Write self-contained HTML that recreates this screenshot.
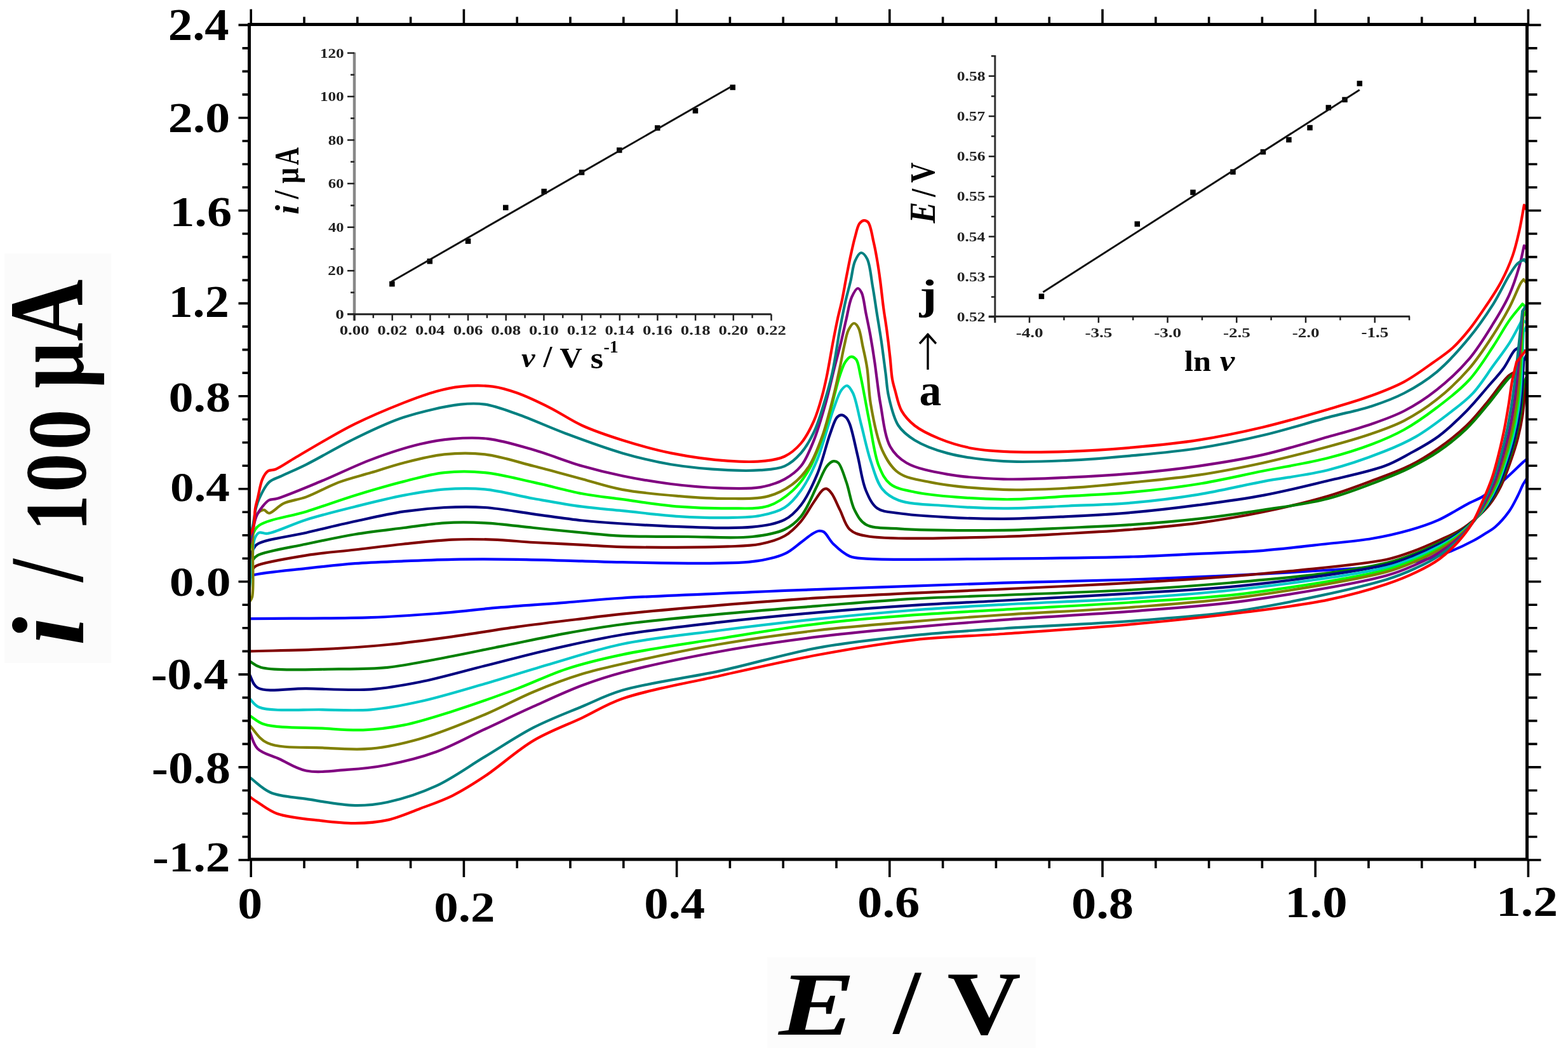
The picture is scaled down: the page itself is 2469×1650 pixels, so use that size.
<!DOCTYPE html><html><head><meta charset="utf-8"><title>Cyclic voltammograms</title>
<style>html,body{margin:0;padding:0;background:#fff;overflow:hidden}svg{display:block}text{font-family:'Liberation Serif', 'Times New Roman', serif;font-weight:bold}</style></head><body>
<svg width="2469" height="1650" viewBox="0 0 2469 1650">
<rect width="2469" height="1650" fill="#ffffff"/>
<rect x="7" y="399" width="168" height="645" fill="#fbfbfb"/>
<rect x="1208" y="1507" width="423" height="143" fill="#fcfcfc"/>
<g fill="none" stroke-width="4.2" stroke-linejoin="round" stroke-linecap="round">
<path stroke="#0000ff" d="M392.5 930 L392.5 912 M392.5 912.0 C394.0 910.3 395.5 908.2 397.0 907.0 C398.2 906.1 398.5 905.8 400.5 905.1 C409.8 902.1 455.5 897.9 482.3 894.9 C508.3 892.0 533.4 889.1 559.0 887.2 C584.5 885.3 610.1 884.5 635.6 883.4 C661.2 882.3 684.9 881.3 712.3 880.8 C743.9 880.3 780.5 880.4 814.6 880.8 C848.7 881.2 886.8 882.6 916.8 883.4 C940.4 884.0 952.9 884.9 980.0 885.2 C1028.7 885.8 1139.3 889.7 1184.5 884.2 C1207.4 881.4 1221.9 878.1 1235.6 871.9 C1246.1 867.2 1253.4 859.7 1261.2 854.0 C1268.0 849.1 1274.7 843.1 1280.0 840.0 C1283.4 838.0 1286.0 836.4 1289.0 836.0 C1291.7 835.7 1294.2 835.8 1297.0 837.4 C1301.8 840.2 1306.1 850.5 1312.3 856.5 C1319.4 863.4 1328.9 871.9 1337.9 875.7 C1346.0 879.1 1350.7 878.6 1363.5 879.6 C1400.4 882.4 1508.9 880.1 1580.0 879.6 C1649.1 879.1 1728.0 878.2 1784.5 876.5 C1824.5 875.3 1852.7 873.5 1886.8 871.9 C1920.9 870.3 1955.0 869.4 1989.0 866.8 C2023.1 864.1 2060.6 859.4 2091.3 856.0 C2116.5 853.2 2138.0 851.8 2160.0 848.0 C2180.8 844.5 2201.6 839.8 2220.0 834.5 C2236.1 829.9 2250.1 825.4 2264.7 818.9 C2279.9 812.1 2296.3 801.2 2309.3 794.3 C2319.3 789.0 2327.3 786.4 2336.1 780.9 C2345.9 774.8 2355.3 766.9 2365.1 758.6 C2376.1 749.3 2391.8 733.5 2398.6 727.4 C2401.5 724.8 2402.9 723.8 2405.0 722.0 M2405 722 L2405 752 M2405.0 752.0 C2402.9 755.3 2400.8 758.1 2398.6 762.0 C2395.7 767.2 2393.1 774.4 2389.7 781.0 C2385.8 788.6 2381.8 797.2 2376.3 805.0 C2370.2 813.6 2360.9 824.0 2354.0 830.0 C2349.1 834.2 2345.1 836.0 2340.0 839.2 C2334.1 842.9 2328.2 846.9 2320.5 851.0 C2310.0 856.6 2295.1 863.7 2282.0 868.8 C2269.0 873.8 2257.2 877.9 2242.3 881.4 C2224.0 885.7 2202.1 888.5 2180.0 891.0 C2155.1 893.9 2127.1 895.2 2100.0 897.0 C2072.0 898.9 2042.3 900.7 2014.6 902.2 C1988.4 903.6 1967.9 904.6 1937.9 906.0 C1895.5 907.9 1839.3 910.5 1784.5 912.4 C1721.2 914.5 1647.0 915.7 1580.0 917.7 C1515.2 919.7 1449.2 922.2 1389.0 924.3 C1335.1 926.2 1273.0 928.4 1235.6 929.9 C1214.0 930.8 1207.2 931.2 1184.5 932.2 C1139.1 934.3 1034.1 938.1 980.0 941.5 C944.3 943.7 921.9 946.2 891.3 948.6 C858.4 951.1 823.1 953.3 789.0 956.2 C754.9 959.1 720.9 963.3 686.8 966.0 C652.7 968.6 623.9 970.7 584.5 972.1 C530.5 974.0 456.5 973.4 392.5 974.1"/>
<path stroke="#800000" d="M392.5 1020 L392.5 905 M392.5 905.0 C394.3 902.0 396.0 898.5 398.0 896.0 C399.6 894.0 399.9 892.7 403.0 891.1 C413.4 885.5 456.0 878.7 482.3 874.4 C508.0 870.2 533.4 868.5 559.0 865.5 C584.5 862.5 610.0 859.2 635.6 856.5 C661.1 853.9 687.9 850.7 712.3 849.6 C734.5 848.6 754.9 848.9 776.2 849.6 C797.5 850.3 817.9 852.7 840.2 854.0 C864.6 855.4 892.5 856.5 916.8 857.8 C938.9 858.9 953.9 860.6 980.0 861.2 C1022.3 862.2 1106.7 862.0 1146.2 860.4 C1168.1 859.5 1181.7 859.6 1197.3 856.5 C1211.2 853.7 1224.7 850.1 1235.6 843.8 C1245.7 837.9 1253.6 829.6 1261.2 820.8 C1269.1 811.7 1275.4 799.1 1281.7 790.1 C1286.8 782.9 1291.8 773.8 1296.0 771.0 C1298.1 769.6 1300.0 769.0 1302.0 769.6 C1304.6 770.3 1307.2 773.7 1309.8 777.3 C1314.0 783.1 1318.1 794.0 1322.6 802.9 C1327.5 812.6 1330.5 826.7 1337.9 833.5 C1344.6 839.6 1350.4 841.2 1363.5 843.8 C1400.1 851.0 1521.2 846.3 1580.0 845.0 C1620.4 844.1 1648.2 841.9 1682.3 840.0 C1716.4 838.1 1750.4 836.3 1784.5 833.5 C1818.6 830.7 1852.8 827.9 1886.8 823.3 C1921.0 818.7 1955.1 813.0 1989.0 806.0 C2023.2 798.9 2060.8 790.0 2091.3 781.0 C2116.7 773.5 2138.0 765.3 2160.0 757.0 C2180.8 749.2 2201.8 742.1 2220.0 733.0 C2236.4 724.9 2250.1 716.2 2264.7 706.0 C2279.9 695.3 2296.0 682.8 2309.3 670.0 C2321.8 658.0 2331.8 645.0 2342.8 632.0 C2354.1 618.7 2366.5 598.9 2376.3 591.0 C2382.0 586.4 2386.8 585.7 2392.0 583.0 M2392 583 L2404 589 L2404 593 L2400 603 M2400.0 603.0 C2400.2 608.7 2400.7 613.5 2400.5 620.0 C2400.3 628.6 2399.5 639.3 2398.0 650.0 C2396.2 662.4 2393.4 676.9 2390.0 690.0 C2386.7 702.9 2382.5 715.4 2378.0 728.0 C2373.5 740.7 2368.8 754.4 2363.0 766.0 C2357.7 776.6 2351.7 786.6 2345.0 795.0 C2338.9 802.7 2332.3 808.7 2325.0 815.0 C2317.3 821.7 2309.2 828.3 2300.0 834.0 C2290.0 840.2 2278.5 845.0 2266.7 850.4 C2253.7 856.4 2239.1 862.9 2225.0 868.0 C2211.1 873.1 2201.4 877.1 2183.0 881.0 C2149.7 888.1 2088.7 893.3 2040.2 898.3 C1990.0 903.4 1938.0 907.5 1886.8 911.1 C1835.7 914.7 1784.5 917.4 1733.4 920.1 C1682.3 922.8 1629.9 925.2 1580.0 927.5 C1532.3 929.7 1487.9 931.4 1440.2 933.7 C1390.2 936.1 1337.9 938.2 1286.8 941.4 C1235.6 944.6 1184.5 948.7 1133.4 952.9 C1082.3 957.1 1020.0 962.6 980.0 966.7 C954.3 969.4 940.4 971.2 916.8 974.1 C886.8 977.7 848.6 982.2 814.6 986.9 C780.5 991.6 746.4 997.6 712.3 1002.3 C678.3 1007.0 644.2 1011.7 610.1 1015.0 C576.1 1018.3 542.9 1020.5 507.8 1022.2 C470.5 1024.0 430.9 1024.3 392.5 1025.3"/>
<path stroke="#008000" d="M392.5 1040 L392.5 895 M392.5 895.0 C394.3 890.7 395.6 885.6 398.0 882.0 C400.1 878.9 401.2 876.8 405.6 874.4 C417.5 867.8 456.7 862.0 482.3 856.5 C507.8 851.0 533.4 845.5 559.0 841.2 C584.5 837.0 611.2 834.1 635.6 831.0 C657.9 828.2 678.2 824.6 699.6 823.3 C720.9 822.0 741.3 822.2 763.5 823.3 C787.9 824.5 814.6 828.4 840.2 831.0 C865.7 833.6 892.5 836.5 916.8 838.7 C938.9 840.7 956.4 842.7 980.0 843.8 C1010.0 845.2 1048.2 844.8 1082.3 845.0 C1116.4 845.2 1156.4 848.1 1184.5 845.0 C1204.6 842.8 1222.1 840.0 1235.6 833.5 C1246.3 828.4 1253.5 822.4 1261.2 813.1 C1271.2 801.1 1279.4 778.9 1286.8 764.5 C1292.6 753.1 1296.7 740.3 1302.1 733.8 C1305.4 729.9 1309.0 726.7 1312.3 726.2 C1314.9 725.8 1317.6 726.5 1320.0 728.7 C1324.9 733.2 1328.8 748.2 1332.8 759.4 C1337.5 772.5 1339.6 791.1 1345.6 802.9 C1350.4 812.3 1354.6 820.8 1363.5 825.9 C1375.3 832.6 1392.6 830.8 1414.6 832.3 C1453.9 835.1 1531.5 835.3 1580.0 834.8 C1618.2 834.4 1648.2 832.5 1682.3 831.0 C1716.4 829.5 1750.4 828.2 1784.5 825.9 C1818.6 823.5 1852.8 820.7 1886.8 816.9 C1920.9 813.1 1955.0 808.2 1989.0 802.9 C2023.1 797.6 2058.8 793.5 2091.3 785.0 C2122.1 776.9 2155.9 763.2 2179.5 754.0 C2195.7 747.7 2206.4 743.3 2220.0 736.5 C2234.7 729.1 2250.2 720.9 2264.7 711.0 C2280.0 700.6 2296.0 687.8 2309.3 675.0 C2321.8 663.0 2331.8 650.1 2342.8 637.0 C2354.1 623.5 2367.2 604.5 2376.3 595.0 C2381.6 589.5 2385.4 587.0 2390.0 583.0 M2390 583 L2404 589 L2404 593 L2399.5 603 M2399.5 603.0 C2398.9 607.7 2398.4 611.4 2397.8 617.0 C2396.9 625.3 2396.5 637.1 2394.9 648.1 C2393.0 660.6 2390.3 674.8 2387.0 687.9 C2383.8 700.8 2379.8 713.3 2375.5 725.9 C2371.2 738.7 2366.7 752.2 2361.1 763.9 C2355.9 774.8 2350.0 785.2 2343.5 794.2 C2337.6 802.5 2331.2 809.3 2324.0 816.3 C2316.6 823.5 2308.5 830.5 2299.4 836.7 C2289.6 843.3 2278.3 848.8 2266.7 854.5 C2254.0 860.8 2239.8 867.2 2225.8 872.5 C2211.9 877.9 2200.1 882.2 2183.0 886.4 C2158.4 892.5 2125.9 897.5 2091.3 902.2 C2046.8 908.2 1989.1 913.1 1937.9 917.5 C1886.8 921.9 1839.3 925.4 1784.5 928.5 C1721.2 932.1 1641.7 934.5 1580.0 937.0 C1529.0 939.1 1487.9 939.9 1440.2 942.6 C1390.2 945.5 1337.9 950.1 1286.8 954.1 C1235.7 958.2 1184.5 962.1 1133.4 966.9 C1082.2 971.7 1024.1 977.2 980.0 983.0 C946.3 987.4 921.9 991.6 891.3 997.1 C858.4 1003.0 823.1 1010.8 789.0 1017.6 C754.9 1024.4 718.5 1032.2 686.8 1038.0 C659.4 1043.0 635.8 1048.2 610.1 1050.8 C584.6 1053.3 562.0 1053.2 533.4 1053.4 C497.3 1053.6 433.1 1056.9 410.7 1050.8 C401.5 1048.3 398.6 1044.0 392.5 1040.6"/>
<path stroke="#000080" d="M392.5 1061 L392.5 885 M392.5 885.0 C394.3 878.7 395.4 871.0 398.0 866.0 C400.1 862.0 400.9 859.4 405.6 856.5 C417.4 849.0 456.7 844.6 482.3 838.7 C507.9 832.7 533.4 826.4 559.0 820.8 C584.5 815.3 611.1 809.1 635.6 805.4 C657.8 802.1 678.2 800.1 699.6 799.0 C720.9 797.9 741.3 797.5 763.5 799.0 C788.0 800.6 814.6 805.9 840.2 809.3 C865.7 812.7 892.5 816.9 916.8 819.5 C938.8 821.8 956.4 823.0 980.0 824.5 C1010.0 826.4 1048.2 828.8 1082.3 829.7 C1116.4 830.6 1156.4 832.8 1184.5 829.7 C1204.6 827.5 1222.2 825.1 1235.6 818.2 C1246.5 812.6 1253.5 805.1 1261.2 795.2 C1271.0 782.6 1279.4 764.3 1286.8 746.6 C1295.0 727.1 1301.1 699.1 1307.2 682.7 C1311.1 672.1 1313.9 661.5 1318.0 657.0 C1320.2 654.6 1322.7 653.3 1325.0 653.3 C1327.3 653.3 1330.0 655.1 1332.0 657.0 C1334.5 659.4 1335.9 662.4 1337.9 667.4 C1342.1 677.8 1346.5 701.2 1350.7 718.5 C1355.0 736.2 1357.3 757.6 1363.5 772.2 C1368.3 783.6 1373.0 794.3 1381.4 800.3 C1389.9 806.3 1401.2 805.9 1414.6 808.0 C1434.8 811.2 1464.8 812.9 1491.3 814.4 C1519.8 816.0 1549.4 817.0 1580.0 816.9 C1612.9 816.8 1648.2 814.8 1682.3 813.1 C1716.4 811.4 1750.5 809.7 1784.5 806.7 C1818.6 803.7 1852.7 799.7 1886.8 795.2 C1920.9 790.7 1955.0 786.3 1989.0 779.9 C2023.2 773.5 2058.5 764.8 2091.3 756.8 C2122.0 749.4 2156.6 742.5 2180.0 733.8 C2196.3 727.7 2206.4 721.4 2220.0 714.0 C2234.6 706.0 2250.3 697.8 2264.7 687.2 C2280.1 675.8 2295.8 660.6 2309.3 647.0 C2321.7 634.5 2332.5 620.9 2342.8 609.0 C2351.7 598.7 2360.3 589.9 2367.4 580.0 C2374.0 570.8 2379.9 556.9 2384.5 552.0 C2386.6 549.8 2388.2 549.3 2390.0 548.0 M2390 548 L2404 554 L2404 558 L2399.3 568 M2399.3 568.0 C2398.3 583.8 2397.6 601.2 2396.5 615.4 C2395.5 627.1 2394.9 636.0 2393.3 647.2 C2391.5 659.7 2388.8 673.8 2385.6 686.8 C2382.4 699.7 2378.5 712.2 2374.3 724.9 C2370.0 737.6 2365.7 751.1 2360.2 762.9 C2355.1 774.0 2349.2 784.6 2342.8 793.9 C2336.9 802.4 2330.6 809.7 2323.5 816.9 C2316.2 824.4 2308.2 831.6 2299.2 838.0 C2289.4 844.9 2278.3 850.7 2266.7 856.6 C2254.1 863.0 2240.1 869.4 2226.3 874.8 C2212.2 880.3 2203.3 884.3 2183.0 889.1 C2138.3 899.8 2033.1 913.8 1963.5 921.4 C1900.9 928.2 1846.2 930.2 1784.5 934.1 C1718.6 938.3 1641.7 942.1 1580.0 945.5 C1529.0 948.3 1487.9 949.9 1440.2 952.9 C1390.2 956.1 1337.9 959.9 1286.8 964.4 C1235.6 968.9 1184.5 973.9 1133.4 979.7 C1082.2 985.5 1027.2 991.5 980.0 999.3 C939.0 1006.1 902.6 1014.3 865.7 1022.7 C830.6 1030.7 797.6 1039.8 763.5 1048.3 C729.4 1056.8 693.0 1067.5 661.2 1073.8 C633.9 1079.2 612.0 1083.4 584.5 1085.3 C553.0 1087.5 513.9 1084.6 482.3 1084.1 C454.9 1083.7 419.8 1090.9 405.6 1082.8 C397.5 1078.1 396.9 1068.3 392.5 1061.1"/>
<path stroke="#00c8c8" d="M392.5 1099 L392.5 930 M392.5 930.0 C394.2 913.3 395.9 894.8 397.5 880.0 C398.7 868.1 398.1 855.2 401.0 848.0 C402.7 843.6 404.9 840.1 408.1 838.7 C411.5 837.2 415.1 840.7 420.9 840.0 C433.8 838.4 460.6 825.0 482.3 818.2 C506.3 810.7 533.4 804.1 559.0 797.7 C584.5 791.3 611.1 784.6 635.6 779.9 C657.8 775.7 678.2 772.0 699.6 770.4 C720.9 768.8 741.3 768.3 763.5 770.4 C788.0 772.7 814.6 780.4 840.2 785.0 C865.7 789.5 892.4 794.5 916.8 797.7 C938.8 800.6 957.1 801.8 980.0 804.1 C1007.2 806.8 1040.8 811.3 1069.5 813.1 C1096.0 814.8 1123.2 815.5 1146.2 815.1 C1165.0 814.7 1181.7 814.9 1197.3 811.8 C1211.2 809.1 1224.8 805.9 1235.6 799.0 C1245.9 792.4 1253.4 783.1 1261.2 772.2 C1270.8 758.9 1279.0 742.2 1286.8 723.6 C1296.4 700.8 1304.9 664.5 1312.3 644.4 C1317.0 631.8 1320.2 620.2 1325.0 614.0 C1327.8 610.4 1331.2 606.9 1334.0 607.3 C1337.2 607.7 1340.2 613.3 1343.0 618.8 C1348.1 629.1 1351.4 650.4 1355.8 667.4 C1360.7 686.1 1365.1 708.3 1371.1 726.2 C1376.4 742.0 1380.6 759.1 1389.0 769.6 C1395.9 778.2 1403.1 783.1 1414.6 787.5 C1432.7 794.4 1464.8 794.4 1491.3 796.5 C1519.8 798.8 1549.4 800.2 1580.0 800.3 C1612.9 800.4 1648.2 798.0 1682.3 796.5 C1716.4 795.0 1750.5 794.4 1784.5 791.4 C1818.6 788.4 1852.8 784.1 1886.8 778.6 C1921.0 773.0 1954.9 764.5 1989.0 758.1 C2023.1 751.7 2058.7 748.2 2091.3 740.0 C2122.1 732.2 2154.5 720.7 2179.5 710.8 C2198.7 703.2 2213.1 696.9 2229.3 687.6 C2246.3 677.8 2263.6 664.6 2279.0 652.8 C2293.2 641.9 2306.9 632.2 2318.8 619.6 C2331.1 606.6 2341.3 589.5 2351.4 575.6 C2360.5 563.1 2370.1 550.7 2376.9 539.9 C2382.2 531.6 2386.1 523.6 2389.7 516.9 C2392.5 511.7 2394.6 507.6 2397.0 503.0 M2397 503 L2404 509 L2404 513 L2398.9 523 M2398.9 523.0 C2397.4 553.0 2396.1 590.5 2394.4 613.1 C2393.3 626.7 2392.5 634.3 2390.8 645.7 C2388.9 658.2 2386.3 672.2 2383.2 685.1 C2380.2 698.0 2376.4 710.6 2372.3 723.2 C2368.2 736.0 2364.0 749.3 2358.7 761.3 C2353.7 772.6 2347.9 783.5 2341.6 793.3 C2335.8 802.3 2329.8 810.2 2322.8 817.9 C2315.5 825.8 2307.7 833.3 2298.7 840.1 C2289.1 847.4 2278.1 853.7 2266.7 859.9 C2254.3 866.5 2240.7 872.8 2226.9 878.4 C2212.8 884.1 2203.5 888.4 2183.0 893.4 C2138.1 904.4 2033.1 918.3 1963.5 926.5 C1900.9 933.9 1846.2 937.7 1784.5 941.8 C1718.6 946.2 1641.7 948.4 1580.0 951.8 C1529.0 954.6 1487.9 956.8 1440.2 960.5 C1390.2 964.4 1337.9 969.3 1286.8 974.6 C1235.6 979.9 1184.5 985.9 1133.4 992.5 C1082.2 999.1 1027.1 1004.2 980.0 1014.0 C938.8 1022.6 902.7 1035.0 865.7 1045.7 C830.6 1055.8 797.6 1066.6 763.5 1076.4 C729.5 1086.2 693.0 1097.5 661.2 1104.5 C634.0 1110.5 610.2 1115.2 584.5 1117.3 C559.0 1119.4 535.0 1117.8 507.8 1117.3 C476.7 1116.7 426.3 1120.9 408.1 1113.5 C399.7 1110.1 397.7 1104.1 392.5 1099.4"/>
<path stroke="#00ff00" d="M392.5 1126 L392.5 870 M392.5 870.0 C394.3 860.7 394.8 849.6 398.0 842.0 C400.5 836.0 401.9 831.6 408.1 827.1 C420.9 817.8 457.4 813.2 482.3 805.4 C507.7 797.5 533.4 787.8 559.0 779.9 C584.5 772.1 611.1 764.3 635.6 758.1 C657.8 752.5 678.1 746.4 699.6 744.1 C720.8 741.8 741.3 741.9 763.5 744.1 C788.0 746.5 814.7 753.9 840.2 759.4 C865.8 764.9 892.4 772.7 916.8 777.3 C938.8 781.4 957.1 783.1 980.0 786.2 C1007.2 789.9 1040.8 795.4 1069.5 797.7 C1096.0 799.8 1121.8 800.6 1146.2 800.3 C1168.5 800.0 1192.1 802.3 1210.1 796.5 C1225.2 791.6 1237.6 782.0 1248.4 772.2 C1258.8 762.7 1266.3 752.5 1274.0 739.0 C1283.9 721.7 1291.9 698.0 1299.6 675.0 C1308.2 649.3 1316.0 610.3 1322.3 591.7 C1325.6 582.0 1327.4 575.3 1331.0 570.0 C1333.6 566.2 1336.9 562.0 1340.0 561.6 C1342.6 561.2 1345.9 563.1 1348.1 565.9 C1351.9 570.6 1352.5 580.9 1355.0 591.7 C1359.1 609.4 1363.8 638.7 1368.6 662.3 C1373.4 686.1 1376.6 715.9 1383.9 733.8 C1388.9 745.9 1393.1 755.2 1401.8 762.0 C1411.3 769.4 1423.1 771.2 1440.2 774.7 C1472.0 781.2 1537.0 785.5 1580.0 786.2 C1616.7 786.8 1648.2 783.0 1682.3 781.1 C1716.4 779.2 1750.5 777.9 1784.5 774.7 C1818.6 771.5 1852.8 767.5 1886.8 762.0 C1921.0 756.5 1954.9 748.3 1989.0 741.5 C2023.1 734.7 2060.8 728.8 2091.3 721.0 C2116.7 714.5 2139.0 707.5 2160.0 699.5 C2178.5 692.5 2194.4 685.8 2211.0 676.5 C2228.4 666.8 2245.4 654.7 2262.1 642.0 C2279.5 628.8 2298.2 614.8 2313.1 598.5 C2327.9 582.4 2340.2 561.8 2351.4 545.0 C2361.0 530.6 2368.5 515.9 2376.9 504.1 C2383.8 494.4 2390.5 487.1 2397.3 478.6 M2397.3 478.6 L2404 484.6 L2404 488.6 L2398.5 498.6 M2398.5 498.6 C2396.5 536.0 2394.7 584.5 2392.4 610.9 C2391.2 625.3 2390.4 632.8 2388.6 644.3 C2386.7 656.9 2384.2 670.7 2381.1 683.6 C2378.1 696.5 2374.5 709.1 2370.6 721.7 C2366.6 734.5 2362.6 747.8 2357.4 759.8 C2352.5 771.4 2346.7 782.6 2340.5 792.7 C2334.8 802.1 2329.0 810.6 2322.1 818.8 C2315.0 827.1 2307.2 834.8 2298.3 842.0 C2288.9 849.6 2278.0 856.4 2266.7 862.8 C2254.6 869.7 2241.2 876.0 2227.5 881.6 C2213.3 887.5 2203.8 891.9 2183.0 897.3 C2137.9 908.9 2033.1 925.5 1963.5 934.1 C1901.0 941.8 1846.2 944.0 1784.5 948.2 C1718.6 952.7 1641.7 956.2 1580.0 959.8 C1529.0 962.8 1487.9 964.6 1440.2 968.2 C1390.2 972.0 1337.8 976.1 1286.8 982.3 C1235.6 988.5 1184.5 997.3 1133.4 1005.3 C1082.2 1013.4 1024.0 1021.3 980.0 1030.6 C946.2 1037.7 919.5 1044.2 891.3 1053.4 C864.5 1062.2 842.1 1073.8 814.6 1084.1 C783.1 1095.9 744.1 1109.9 712.3 1119.9 C685.0 1128.5 660.2 1136.7 635.6 1141.6 C613.5 1146.0 593.0 1148.5 571.7 1149.3 C550.4 1150.1 531.0 1148.0 507.8 1146.7 C479.9 1145.2 435.9 1146.7 415.8 1140.3 C404.9 1136.8 400.3 1130.9 392.5 1126.2"/>
<path stroke="#808000" d="M392.5 1141 L392.5 948 M392.5 948.0 C394.0 945.3 395.8 944.3 397.0 940.0 C400.6 926.4 396.8 871.9 398.0 850.0 C398.7 837.3 398.7 828.0 401.0 820.0 C402.7 814.3 405.0 808.8 408.0 806.0 C410.2 804.0 413.3 802.6 415.8 802.9 C418.4 803.2 420.3 808.0 423.5 808.0 C429.1 808.0 437.6 796.7 446.5 792.6 C456.8 787.8 469.5 787.1 482.3 782.4 C498.0 776.7 516.2 765.8 533.4 759.4 C550.2 753.1 567.5 749.2 584.5 744.1 C601.5 739.0 617.5 733.3 635.6 728.7 C655.6 723.6 678.2 717.6 699.6 715.4 C720.8 713.2 741.4 712.8 763.5 715.4 C788.1 718.3 814.7 727.3 840.2 733.8 C865.8 740.3 892.5 747.9 916.8 754.3 C938.9 760.2 956.9 766.6 980.0 770.9 C1007.1 776.0 1040.8 778.7 1069.5 781.1 C1096.0 783.3 1121.8 785.1 1146.2 785.0 C1168.5 784.9 1191.9 786.0 1210.1 781.1 C1225.0 777.1 1237.5 770.2 1248.4 762.0 C1258.6 754.2 1266.7 745.0 1274.0 733.8 C1282.4 720.9 1288.3 704.6 1294.4 687.8 C1301.4 668.5 1307.4 643.3 1312.3 623.9 C1316.4 607.8 1319.3 593.5 1322.3 579.6 C1324.9 567.4 1326.7 555.8 1329.2 545.2 C1331.4 535.9 1332.8 525.8 1336.1 519.4 C1338.5 514.8 1341.9 509.1 1344.7 509.0 C1347.1 508.9 1349.7 512.4 1351.6 515.9 C1355.0 522.0 1356.3 535.0 1358.5 545.2 C1360.9 556.2 1363.5 566.6 1365.4 579.6 C1367.9 596.2 1367.6 616.7 1371.1 636.7 C1375.0 659.4 1380.2 689.2 1389.0 708.3 C1395.8 723.1 1402.8 735.6 1414.6 744.1 C1427.6 753.4 1445.0 755.3 1465.7 759.4 C1496.0 765.4 1542.9 769.5 1580.0 770.9 C1615.0 772.2 1648.2 770.3 1682.3 768.4 C1716.4 766.5 1750.4 762.8 1784.5 759.4 C1818.6 756.0 1852.8 753.0 1886.8 747.9 C1921.0 742.8 1955.0 736.1 1989.0 728.7 C2023.2 721.2 2060.7 711.6 2091.3 703.2 C2116.6 696.3 2139.0 690.0 2160.0 682.7 C2178.4 676.3 2194.4 670.9 2211.0 662.3 C2228.5 653.3 2245.7 642.2 2262.1 629.2 C2279.8 615.3 2298.0 598.0 2313.1 580.7 C2327.7 563.9 2340.3 544.3 2351.4 527.1 C2361.1 512.1 2369.4 497.9 2376.9 483.7 C2383.7 470.7 2390.6 452.3 2394.8 445.4 C2396.5 442.6 2397.6 441.8 2399.0 440.0 M2399 440 L2404 446 L2404 480 L2398.2 490 M2398.2 490.0 C2395.8 529.7 2393.4 581.5 2390.9 609.1 C2389.6 624.0 2388.6 631.5 2386.8 643.2 C2384.9 655.9 2382.4 669.5 2379.4 682.4 C2376.5 695.2 2373.0 707.9 2369.2 720.5 C2365.3 733.3 2361.4 746.5 2356.3 758.6 C2351.5 770.4 2345.7 781.9 2339.7 792.3 C2334.1 802.0 2328.4 811.0 2321.5 819.5 C2314.5 828.1 2306.8 836.1 2298.0 843.5 C2288.6 851.4 2278.0 858.6 2266.7 865.2 C2254.7 872.2 2241.6 878.5 2228.0 884.2 C2213.7 890.3 2204.0 894.8 2183.0 900.4 C2137.7 912.5 2033.1 929.8 1963.5 939.2 C1901.0 947.6 1846.2 951.2 1784.5 955.9 C1718.6 960.9 1641.7 963.9 1580.0 968.0 C1529.0 971.4 1487.9 974.4 1440.2 978.4 C1390.2 982.6 1337.9 986.5 1286.8 992.5 C1235.6 998.5 1184.4 1005.4 1133.4 1014.2 C1082.1 1023.0 1019.9 1036.3 980.0 1045.3 C954.3 1051.1 938.7 1054.4 916.8 1061.1 C892.3 1068.6 865.5 1078.7 840.2 1089.2 C814.4 1099.9 791.2 1113.4 763.5 1125.0 C732.1 1138.2 693.2 1154.2 661.2 1163.3 C634.1 1171.0 610.2 1176.4 584.5 1178.7 C559.1 1181.0 534.1 1178.8 507.8 1177.4 C479.7 1175.9 440.9 1179.0 420.9 1169.7 C407.3 1163.4 402.0 1151.0 392.5 1141.6"/>
<path stroke="#800080" d="M392.5 1150 L392.5 860 M392.5 860.0 C394.3 851.7 396.0 843.1 398.0 835.0 C399.9 827.2 401.1 818.6 404.0 812.0 C406.4 806.4 409.8 801.9 413.2 797.7 C416.3 793.8 419.5 789.6 423.5 787.5 C427.3 785.5 430.4 786.7 436.2 785.0 C450.5 780.8 483.6 766.8 507.8 756.8 C533.0 746.4 558.7 733.2 584.5 723.6 C609.8 714.1 638.0 704.8 661.2 699.3 C679.8 694.9 694.8 692.3 712.3 690.9 C730.6 689.4 748.9 688.5 768.6 690.9 C791.2 693.6 816.1 701.4 840.2 708.3 C865.5 715.6 892.4 726.8 916.8 733.8 C938.7 740.1 957.8 744.7 980.0 749.2 C1004.2 754.2 1031.1 758.8 1056.7 762.0 C1082.2 765.2 1109.0 767.6 1133.4 768.4 C1155.7 769.1 1178.9 770.3 1197.3 767.1 C1211.9 764.6 1224.6 760.3 1235.6 754.3 C1245.5 748.9 1253.9 742.8 1261.2 733.8 C1269.8 723.2 1275.6 707.9 1281.7 692.9 C1288.6 675.9 1294.1 655.9 1299.6 636.7 C1305.2 616.8 1310.4 592.9 1314.9 575.3 C1318.3 561.9 1321.1 552.0 1324.0 540.0 C1327.0 527.6 1329.7 514.5 1332.6 502.2 C1335.4 490.4 1337.3 476.3 1341.2 467.7 C1343.9 461.8 1347.8 454.2 1350.7 454.0 C1352.8 453.9 1355.0 457.4 1356.7 460.8 C1360.0 467.4 1361.3 482.5 1363.6 493.6 C1365.9 504.9 1368.3 515.9 1370.5 528.0 C1372.9 541.5 1375.6 558.5 1377.4 571.0 C1378.8 580.7 1379.5 587.3 1380.8 596.9 C1382.4 608.8 1383.7 621.8 1386.5 636.7 C1390.1 656.1 1392.9 687.1 1401.8 703.2 C1408.3 714.9 1415.8 721.9 1427.4 728.7 C1443.1 737.9 1468.0 742.4 1491.3 746.6 C1518.2 751.5 1549.4 753.4 1580.0 754.3 C1612.9 755.3 1648.2 753.2 1682.3 751.7 C1716.4 750.2 1750.5 748.3 1784.5 745.3 C1818.6 742.3 1852.8 738.7 1886.8 733.8 C1921.0 728.9 1955.1 723.5 1989.0 715.9 C2023.3 708.2 2060.6 696.6 2091.3 687.8 C2116.5 680.6 2139.0 674.7 2160.0 667.4 C2178.4 661.0 2194.4 655.6 2211.0 647.0 C2228.5 638.0 2245.7 626.9 2262.1 613.9 C2279.8 600.0 2298.1 583.0 2313.1 565.4 C2327.8 548.1 2340.3 527.2 2351.4 509.2 C2361.2 493.4 2370.0 478.7 2376.9 463.3 C2383.4 448.9 2388.2 433.5 2392.2 419.9 C2395.6 408.2 2397.3 397.8 2399.9 386.8 M2399.9 386.8 L2404 392.8 L2404 480 L2397.7 490 M2397.7 490.0 C2394.5 528.6 2390.9 578.4 2388.0 605.9 C2386.4 621.1 2385.3 629.2 2383.4 641.2 C2381.5 653.9 2379.1 667.3 2376.3 680.1 C2373.5 692.9 2370.1 705.6 2366.5 718.2 C2362.8 731.0 2359.1 744.1 2354.4 756.4 C2349.7 768.5 2344.0 780.5 2338.1 791.5 C2332.6 801.9 2327.2 811.7 2320.4 820.9 C2313.7 830.0 2306.0 838.4 2297.4 846.4 C2288.2 854.7 2277.8 862.7 2266.7 869.6 C2255.0 877.0 2242.3 883.1 2228.9 889.1 C2214.5 895.4 2204.4 900.4 2183.0 906.2 C2137.4 918.7 2033.1 936.1 1963.5 945.6 C1901.0 954.1 1846.2 957.4 1784.5 962.3 C1718.6 967.5 1641.7 971.2 1580.0 975.8 C1529.0 979.6 1487.9 983.0 1440.2 987.4 C1390.2 992.0 1337.9 996.3 1286.8 1002.7 C1235.6 1009.1 1184.4 1016.4 1133.4 1025.7 C1082.1 1035.1 1019.8 1048.1 980.0 1058.7 C954.1 1065.6 938.7 1070.8 916.8 1079.0 C892.3 1088.2 865.7 1100.7 840.2 1112.2 C814.6 1123.7 789.1 1136.1 763.5 1148.0 C737.9 1159.9 712.8 1174.4 686.8 1183.8 C661.6 1192.9 634.7 1199.5 610.1 1204.2 C588.0 1208.5 567.5 1210.4 546.2 1211.9 C524.9 1213.4 501.1 1217.2 482.3 1213.5 C466.4 1210.4 453.3 1201.1 440.0 1195.0 C427.9 1189.5 413.6 1186.7 405.6 1178.7 C398.4 1171.4 396.9 1159.9 392.5 1150.5"/>
<path stroke="#008080" d="M392.5 1223 L392.5 850 M392.5 850.0 C394.3 842.7 396.3 835.8 398.0 828.0 C399.9 819.3 401.0 807.8 403.0 800.0 C404.5 794.2 405.5 790.5 408.1 785.0 C411.6 777.4 417.0 765.5 423.5 759.4 C429.2 754.1 436.0 753.0 443.9 749.2 C454.7 744.0 467.4 738.7 482.3 731.3 C503.6 720.7 533.2 702.9 559.0 690.4 C584.3 678.2 608.6 665.9 635.6 657.1 C663.9 647.8 701.4 639.4 725.1 636.7 C740.5 635.0 749.9 634.7 763.5 636.7 C779.5 639.0 796.0 645.5 814.6 652.0 C837.7 660.1 864.7 672.8 891.3 682.7 C919.7 693.3 951.3 705.1 980.0 713.4 C1006.3 721.0 1030.0 726.9 1056.7 731.3 C1085.2 736.0 1120.5 738.9 1146.2 740.2 C1165.6 741.2 1181.5 741.5 1197.3 740.2 C1211.0 739.1 1224.6 738.7 1235.6 733.8 C1245.7 729.3 1253.8 721.8 1261.2 713.4 C1269.3 704.2 1275.9 692.4 1281.7 680.2 C1288.0 667.0 1292.3 651.7 1297.0 636.7 C1301.9 621.1 1306.3 606.0 1310.3 588.3 C1315.0 567.5 1318.5 539.7 1322.3 519.4 C1325.3 503.3 1327.9 489.8 1330.9 476.3 C1333.6 464.2 1336.9 453.1 1339.5 441.9 C1342.0 431.3 1342.8 418.7 1346.4 410.9 C1348.9 405.3 1352.6 398.3 1355.9 398.0 C1358.9 397.8 1362.8 402.6 1365.4 407.5 C1370.1 416.3 1371.4 436.1 1374.0 450.5 C1376.6 464.8 1378.5 479.2 1380.8 493.6 C1383.1 507.9 1385.5 521.6 1387.7 536.6 C1390.1 553.0 1392.5 572.7 1394.6 588.3 C1396.3 601.3 1396.4 611.4 1399.3 623.9 C1402.6 638.4 1406.8 658.0 1414.6 670.0 C1421.2 680.1 1429.5 686.3 1440.2 693.0 C1453.7 701.4 1471.6 708.1 1491.3 713.4 C1516.5 720.1 1549.3 724.2 1580.0 726.2 C1612.8 728.3 1648.2 726.4 1682.3 724.9 C1716.4 723.4 1750.5 720.4 1784.5 717.2 C1818.6 714.0 1852.8 711.0 1886.8 705.7 C1921.0 700.4 1955.1 693.4 1989.0 685.3 C2023.2 677.2 2060.6 665.3 2091.3 657.1 C2116.4 650.4 2139.0 646.3 2160.0 639.4 C2178.5 633.4 2194.4 627.6 2211.0 619.0 C2228.5 609.9 2245.8 599.3 2262.1 585.8 C2280.0 570.9 2297.9 550.6 2313.1 532.2 C2327.5 514.8 2340.3 496.1 2351.4 478.6 C2361.3 463.0 2369.6 444.3 2376.9 432.7 C2381.7 425.2 2385.2 419.0 2389.7 414.8 C2393.0 411.7 2396.5 410.5 2399.9 408.4 M2399.9 408.4 L2404 414.4 L2404 480 L2397.2 490 M2397.2 490.0 C2393.1 527.5 2388.3 575.2 2384.9 602.4 C2383.0 618.0 2381.8 626.7 2379.9 639.1 C2377.8 651.8 2375.6 664.9 2372.9 677.7 C2370.2 690.5 2367.1 703.2 2363.7 715.9 C2360.2 728.6 2356.8 741.6 2352.2 754.1 C2347.7 766.5 2342.1 779.0 2336.4 790.6 C2331.1 801.7 2326.0 812.5 2319.3 822.3 C2312.7 832.0 2305.3 840.9 2296.8 849.4 C2287.8 858.3 2277.6 867.0 2266.7 874.4 C2255.4 882.0 2243.1 888.1 2229.9 894.2 C2215.4 900.9 2204.7 905.9 2183.0 912.4 C2137.1 926.2 2033.2 948.7 1963.5 959.7 C1901.1 969.5 1846.2 972.7 1784.5 977.6 C1718.7 982.8 1641.7 985.3 1580.0 989.5 C1529.0 992.9 1487.8 995.3 1440.2 1000.2 C1390.2 1005.4 1337.7 1010.8 1286.8 1020.1 C1235.4 1029.5 1184.6 1045.3 1133.4 1056.4 C1082.4 1067.5 1019.6 1075.0 980.0 1086.8 C953.9 1094.6 938.8 1103.0 916.8 1112.2 C892.4 1122.4 865.3 1132.5 840.2 1145.4 C814.2 1158.8 789.1 1176.1 763.5 1191.4 C737.9 1206.7 713.0 1225.3 686.8 1237.4 C661.8 1248.9 633.3 1258.0 610.1 1263.0 C591.6 1267.0 577.7 1268.4 559.0 1268.1 C536.0 1267.7 505.9 1261.6 482.3 1257.9 C462.0 1254.7 441.7 1254.4 426.0 1247.7 C412.6 1242.0 403.7 1231.5 392.5 1223.4"/>
<path stroke="#ff0000" d="M392.5 1254 L392.5 845 M392.5 845.0 C394.7 840.0 397.4 836.0 399.0 830.0 C401.1 821.8 400.6 808.2 402.0 800.0 C403.0 794.1 404.2 790.9 405.6 785.0 C407.7 776.6 409.7 762.1 413.2 754.3 C415.7 748.8 418.4 744.0 422.2 741.5 C425.5 739.3 429.1 740.8 433.7 739.0 C441.7 735.9 453.3 727.5 464.4 721.0 C477.6 713.2 492.7 704.1 507.8 695.5 C524.1 686.2 540.0 676.7 559.0 667.4 C581.7 656.2 612.5 643.2 635.6 634.1 C654.2 626.8 670.8 620.6 686.8 616.2 C700.4 612.5 711.3 610.0 725.1 608.6 C740.8 607.1 760.5 606.6 776.2 608.6 C790.0 610.4 801.1 614.0 814.6 618.8 C830.6 624.5 848.8 633.4 865.7 641.8 C882.9 650.4 898.5 661.7 916.8 670.0 C936.4 678.9 957.8 686.0 980.0 693.0 C1004.2 700.6 1030.0 708.0 1056.7 713.4 C1085.2 719.1 1119.4 723.9 1146.2 725.7 C1167.8 727.2 1188.7 727.6 1205.0 725.7 C1216.9 724.3 1226.3 723.0 1235.6 718.5 C1245.1 713.9 1253.8 706.6 1261.2 698.0 C1269.5 688.3 1276.2 674.7 1281.7 662.3 C1287.2 650.0 1291.0 636.0 1294.4 623.9 C1297.4 613.2 1299.1 605.2 1301.6 593.4 C1304.9 577.4 1308.8 553.2 1312.0 536.6 C1314.5 523.7 1316.5 513.2 1318.9 502.2 C1321.1 492.0 1323.6 483.2 1325.8 472.9 C1328.2 461.5 1330.3 448.6 1332.6 436.7 C1334.9 425.1 1337.1 413.3 1339.5 402.3 C1341.7 392.1 1343.9 381.9 1346.4 373.0 C1348.5 365.4 1350.1 356.3 1353.3 352.0 C1355.3 349.4 1357.8 347.5 1360.2 347.2 C1362.4 347.0 1365.0 347.8 1367.0 350.0 C1371.2 354.7 1373.3 371.5 1375.7 381.6 C1377.8 390.6 1379.2 398.2 1380.8 407.5 C1382.7 418.1 1384.4 429.8 1386.0 441.9 C1387.8 455.4 1389.4 471.5 1391.2 485.0 C1392.8 497.1 1394.7 507.3 1396.3 519.4 C1398.1 532.9 1400.0 548.8 1401.5 562.4 C1402.8 574.5 1403.3 587.3 1405.0 596.9 C1406.2 603.9 1407.6 608.2 1409.5 615.0 C1412.1 624.2 1414.4 637.6 1419.7 646.9 C1424.8 655.8 1431.6 663.2 1440.2 670.0 C1450.4 678.1 1464.5 684.6 1478.5 690.4 C1494.0 696.8 1512.5 702.3 1529.6 705.7 C1546.3 709.0 1560.2 709.8 1580.0 710.8 C1608.1 712.2 1648.2 711.9 1682.3 710.8 C1716.4 709.7 1750.5 707.4 1784.5 704.4 C1818.6 701.4 1852.8 698.2 1886.8 692.9 C1921.0 687.6 1955.1 680.5 1989.0 672.5 C2023.2 664.4 2060.7 653.4 2091.3 644.4 C2116.5 637.0 2139.0 630.6 2160.0 622.8 C2178.4 616.0 2194.8 609.8 2211.0 601.1 C2227.2 592.4 2243.3 580.2 2257.0 570.5 C2268.4 562.5 2278.2 556.0 2287.6 547.5 C2296.9 539.0 2304.9 529.6 2313.1 519.4 C2321.9 508.4 2330.3 496.1 2338.6 483.7 C2347.3 470.7 2356.8 456.8 2364.1 442.9 C2371.2 429.6 2377.2 415.7 2382.0 402.1 C2386.5 389.3 2389.2 376.8 2392.2 363.8 C2395.2 350.5 2397.3 336.6 2399.9 323.0 M2399.9 323 L2404 331 L2404 550 L2388 570 M2388.0 570.0 C2385.8 579.4 2383.3 588.1 2381.3 598.3 C2379.0 610.0 2377.7 623.8 2375.6 636.5 C2373.5 649.3 2371.4 662.1 2368.9 674.8 C2366.3 687.6 2363.5 700.3 2360.3 713.0 C2357.1 725.8 2354.0 738.6 2349.7 751.3 C2345.4 764.2 2339.8 777.3 2334.4 789.6 C2329.2 801.5 2324.5 813.3 2318.0 824.0 C2311.7 834.4 2304.3 843.9 2296.0 853.0 C2287.3 862.6 2277.4 872.1 2266.7 880.0 C2255.8 888.0 2244.0 894.1 2231.0 900.4 C2216.4 907.5 2201.8 913.5 2183.0 919.8 C2157.6 928.3 2124.6 937.5 2091.3 944.4 C2052.4 952.5 2009.7 957.6 1963.5 963.5 C1908.9 970.5 1846.2 977.1 1784.5 982.7 C1718.6 988.7 1641.7 993.6 1580.0 998.0 C1529.0 1001.6 1487.8 1002.0 1440.2 1007.3 C1390.1 1012.9 1337.8 1021.9 1286.8 1031.3 C1235.5 1040.8 1184.5 1052.6 1133.4 1064.0 C1082.2 1075.5 1019.4 1086.2 980.0 1100.0 C953.7 1109.2 938.9 1119.7 916.8 1130.1 C892.5 1141.6 865.0 1151.2 840.2 1165.9 C813.9 1181.5 786.8 1206.6 763.5 1222.1 C745.0 1234.4 729.7 1244.2 712.3 1252.8 C695.6 1261.1 678.3 1266.8 661.2 1273.2 C644.2 1279.6 627.4 1287.3 610.1 1291.1 C593.3 1294.8 576.1 1296.0 559.0 1296.2 C542.0 1296.4 526.2 1294.6 507.8 1292.4 C485.9 1289.8 454.6 1287.5 436.2 1280.9 C423.3 1276.3 413.6 1268.1 405.6 1263.0 C400.2 1259.6 396.9 1257.0 392.5 1254.0"/>
</g>
<g stroke="#000" fill="none">
<rect x="392.5" y="38.5" width="2012.0" height="1314.5" stroke-width="5"/>
<path stroke-width="3.6" d="M395.2 1353.0 V1381.0 M395.2 38.5 V14.5 M479.0 1353.0 V1367.0 M479.0 38.5 V26.5 M562.8 1353.0 V1367.0 M562.8 38.5 V26.5 M646.6 1353.0 V1367.0 M646.6 38.5 V26.5 M730.4 1353.0 V1381.0 M730.4 38.5 V14.5 M814.2 1353.0 V1367.0 M814.2 38.5 V26.5 M898.0 1353.0 V1367.0 M898.0 38.5 V26.5 M981.8 1353.0 V1367.0 M981.8 38.5 V26.5 M1065.6 1353.0 V1381.0 M1065.6 38.5 V14.5 M1149.4 1353.0 V1367.0 M1149.4 38.5 V26.5 M1233.2 1353.0 V1367.0 M1233.2 38.5 V26.5 M1317.0 1353.0 V1367.0 M1317.0 38.5 V26.5 M1400.8 1353.0 V1381.0 M1400.8 38.5 V14.5 M1484.6 1353.0 V1367.0 M1484.6 38.5 V26.5 M1568.4 1353.0 V1367.0 M1568.4 38.5 V26.5 M1652.2 1353.0 V1367.0 M1652.2 38.5 V26.5 M1736.0 1353.0 V1381.0 M1736.0 38.5 V14.5 M1819.8 1353.0 V1367.0 M1819.8 38.5 V26.5 M1903.6 1353.0 V1367.0 M1903.6 38.5 V26.5 M1987.4 1353.0 V1367.0 M1987.4 38.5 V26.5 M2071.2 1353.0 V1381.0 M2071.2 38.5 V14.5 M2155.0 1353.0 V1367.0 M2155.0 38.5 V26.5 M2238.8 1353.0 V1367.0 M2238.8 38.5 V26.5 M2322.6 1353.0 V1367.0 M2322.6 38.5 V26.5 M2406.4 1353.0 V1381.0 M2406.4 38.5 V14.5 M392.5 1354.0 H375.5 M2404.5 1354.0 H2426.5 M392.5 1317.5 H381.5 M2404.5 1317.5 H2420.5 M392.5 1281.0 H381.5 M2404.5 1281.0 H2420.5 M392.5 1244.5 H381.5 M2404.5 1244.5 H2420.5 M392.5 1207.9 H375.5 M2404.5 1207.9 H2426.5 M392.5 1171.4 H381.5 M2404.5 1171.4 H2420.5 M392.5 1134.9 H381.5 M2404.5 1134.9 H2420.5 M392.5 1098.4 H381.5 M2404.5 1098.4 H2420.5 M392.5 1061.9 H375.5 M2404.5 1061.9 H2426.5 M392.5 1025.4 H381.5 M2404.5 1025.4 H2420.5 M392.5 988.8 H381.5 M2404.5 988.8 H2420.5 M392.5 952.3 H381.5 M2404.5 952.3 H2420.5 M392.5 915.8 H375.5 M2404.5 915.8 H2426.5 M392.5 879.3 H381.5 M2404.5 879.3 H2420.5 M392.5 842.8 H381.5 M2404.5 842.8 H2420.5 M392.5 806.2 H381.5 M2404.5 806.2 H2420.5 M392.5 769.7 H375.5 M2404.5 769.7 H2426.5 M392.5 733.2 H381.5 M2404.5 733.2 H2420.5 M392.5 696.7 H381.5 M2404.5 696.7 H2420.5 M392.5 660.2 H381.5 M2404.5 660.2 H2420.5 M392.5 623.7 H375.5 M2404.5 623.7 H2426.5 M392.5 587.1 H381.5 M2404.5 587.1 H2420.5 M392.5 550.6 H381.5 M2404.5 550.6 H2420.5 M392.5 514.1 H381.5 M2404.5 514.1 H2420.5 M392.5 477.6 H375.5 M2404.5 477.6 H2426.5 M392.5 441.1 H381.5 M2404.5 441.1 H2420.5 M392.5 404.6 H381.5 M2404.5 404.6 H2420.5 M392.5 368.0 H381.5 M2404.5 368.0 H2420.5 M392.5 331.5 H375.5 M2404.5 331.5 H2426.5 M392.5 295.0 H381.5 M2404.5 295.0 H2420.5 M392.5 258.5 H381.5 M2404.5 258.5 H2420.5 M392.5 222.0 H381.5 M2404.5 222.0 H2420.5 M392.5 185.5 H375.5 M2404.5 185.5 H2426.5 M392.5 148.9 H381.5 M2404.5 148.9 H2420.5 M392.5 112.4 H381.5 M2404.5 112.4 H2420.5 M392.5 75.9 H381.5 M2404.5 75.9 H2420.5 M392.5 39.4 H375.5 M2404.5 39.4 H2426.5"/>
</g>
<g stroke="#222" fill="none">
<path stroke="#888" stroke-width="4.5" d="M558.0 504.8 V82.4"/>
<path stroke-width="3" d="M547.0 494.8 H1214.5"/>
<path stroke-width="2.5" d="M558.0 494.8 V504.8 M587.8 494.8 V500.8 M617.7 494.8 V504.8 M647.5 494.8 V500.8 M677.4 494.8 V504.8 M707.2 494.8 V500.8 M737.0 494.8 V504.8 M766.9 494.8 V500.8 M796.7 494.8 V504.8 M826.6 494.8 V500.8 M856.4 494.8 V504.8 M886.2 494.8 V500.8 M916.1 494.8 V504.8 M945.9 494.8 V500.8 M975.8 494.8 V504.8 M1005.6 494.8 V500.8 M1035.4 494.8 V504.8 M1065.3 494.8 V500.8 M1095.1 494.8 V504.8 M1125.0 494.8 V500.8 M1154.8 494.8 V504.8 M1184.6 494.8 V500.8 M1214.5 494.8 V504.8 M558.0 494.8 H547.0 M558.0 460.5 H552.0 M558.0 426.2 H547.0 M558.0 392.0 H552.0 M558.0 357.7 H547.0 M558.0 323.4 H552.0 M558.0 289.1 H547.0 M558.0 254.8 H552.0 M558.0 220.6 H547.0 M558.0 186.3 H552.0 M558.0 152.0 H547.0 M558.0 117.7 H552.0 M558.0 83.4 H547.0"/>
</g>
<g fill="#000">
<rect x="613.1" y="442.8" width="8.5" height="8.5"/>
<rect x="672.5" y="407.1" width="8.5" height="8.5"/>
<rect x="732.8" y="375.4" width="8.5" height="8.5"/>
<rect x="792.0" y="322.6" width="8.5" height="8.5"/>
<rect x="852.4" y="297.2" width="8.5" height="8.5"/>
<rect x="911.8" y="267.2" width="8.5" height="8.5"/>
<rect x="971.0" y="232.2" width="8.5" height="8.5"/>
<rect x="1031.0" y="197.2" width="8.5" height="8.5"/>
<rect x="1090.7" y="170.1" width="8.5" height="8.5"/>
<rect x="1149.5" y="133.3" width="8.5" height="8.5"/>
</g>
<path stroke="#111" stroke-width="3" fill="none" d="M616.3 443.5 L1150.7 136.7"/>
<g stroke="#222" fill="none">
<path stroke="#333" stroke-width="3" d="M1566.8 508.3 V87.0"/>
<path stroke-width="3" d="M1556.8 498.3 H2220.0"/>
<path stroke-width="2.5" d="M1621.0 498.3 V508.3 M1675.4 498.3 V504.3 M1729.8 498.3 V508.3 M1784.1 498.3 V504.3 M1838.5 498.3 V508.3 M1892.9 498.3 V504.3 M1947.2 498.3 V508.3 M2001.6 498.3 V504.3 M2056.0 498.3 V508.3 M2110.4 498.3 V504.3 M2164.8 498.3 V508.3 M2219.1 498.3 V504.3 M1566.6 498.3 V504.3 M1566.8 499.0 H1556.8 M1566.8 467.4 H1560.8 M1566.8 435.8 H1556.8 M1566.8 404.2 H1560.8 M1566.8 372.6 H1556.8 M1566.8 341.0 H1560.8 M1566.8 309.4 H1556.8 M1566.8 277.8 H1560.8 M1566.8 246.2 H1556.8 M1566.8 214.6 H1560.8 M1566.8 183.0 H1556.8 M1566.8 151.4 H1560.8 M1566.8 119.8 H1556.8 M1566.8 88.2 H1560.8"/>
</g>
<g fill="#000">
<rect x="1635.7" y="462.4" width="8.5" height="8.5"/>
<rect x="1786.5" y="348.4" width="8.5" height="8.5"/>
<rect x="1874.2" y="298.6" width="8.5" height="8.5"/>
<rect x="1937.2" y="266.4" width="8.5" height="8.5"/>
<rect x="1984.7" y="234.9" width="8.5" height="8.5"/>
<rect x="2025.2" y="215.8" width="8.5" height="8.5"/>
<rect x="2058.3" y="196.8" width="8.5" height="8.5"/>
<rect x="2087.6" y="165.2" width="8.5" height="8.5"/>
<rect x="2113.3" y="152.7" width="8.5" height="8.5"/>
<rect x="2136.6" y="127.2" width="8.5" height="8.5"/>
</g>
<path stroke="#111" stroke-width="3" fill="none" d="M1642.3 459.9 L2140.8 141.4"/>
<text transform="matrix(1.111 0 0 1.035 264.8671 63.265)" font-size="69">2.4</text>
<text transform="matrix(1.1293 0 0 0.9894 264.812 208.0106)" font-size="69">2.0</text>
<text transform="matrix(1.1352 0 0 0.9943 267.1674 356.1057)" font-size="69">1.6</text>
<text transform="matrix(1.1034 0 0 1.0329 265.5472 498.9671)" font-size="69">1.2</text>
<text transform="matrix(1.1324 0 0 0.9809 265.4803 648.1191)" font-size="69">0.8</text>
<text transform="matrix(1.0895 0 0 0.9553 267.9947 788.7447)" font-size="69">0.4</text>
<text transform="matrix(1.1222 0 0 0.9532 266.7074 937.8468)" font-size="69">0.0</text>
<text transform="matrix(1.1155 0 0 1.0043 237.6253 1084.9957)" font-size="69">-0.4</text>
<text transform="matrix(1.1377 0 0 1.0319 238.7661 1232.7681)" font-size="69">-0.8</text>
<text transform="matrix(1.1219 0 0 0.9857 240.0084 1372.0143)" font-size="69">-1.2</text>
<text transform="matrix(1.1284 0 0 1.0136 374.2909 1445.5243)" font-size="69">0</text>
<text transform="matrix(1.1145 0 0 0.9936 683.3281 1450.9064)" font-size="69">0.2</text>
<text transform="matrix(1.1113 0 0 1.0064 1014.3364 1445.7936)" font-size="69">0.4</text>
<text transform="matrix(1.14 0 0 1.0255 1350.06 1443.5745)" font-size="69">0.6</text>
<text transform="matrix(1.1373 0 0 1 1686.9672 1446.2)" font-size="69">0.8</text>
<text transform="matrix(1.1423 0 0 1 2023.1269 1443.5)" font-size="69">1.0</text>
<text transform="matrix(1.1253 0 0 0.9943 2356.0232 1442.2057)" font-size="69">1.2</text>
<text transform="matrix(1.2716 0 0 0.9957 1226.2716 1628.8)" font-size="142" font-style="italic">E</text>
<text transform="matrix(1.0881 0 0 1.0116 1406.8508 1627.4512)" font-size="142">/</text>
<text transform="matrix(1.1326 0 0 1.007 1491.4124 1627.6503)" font-size="142">V</text>
<text transform="matrix(0 -1.0235 1.0018 0 130.8 1016.5941)" font-size="160" font-style="italic">i</text>
<text transform="matrix(0 -0.8028 1.0393 0 129.0679 915.9296)" font-size="160">/</text>
<text transform="matrix(0 -0.8162 1.0124 0 136 835.6786)" font-size="139">1</text>
<text transform="matrix(0 -0.8881 0.9907 0 134.679 775.1367)" font-size="139">0</text>
<text transform="matrix(0 -0.9305 1.0057 0 141.2591 708.6627)" font-size="139">0</text>
<text transform="matrix(0 -0.778 0.9775 0 130.3625 611.556)" font-size="165">μ</text>
<text transform="matrix(0 -0.8192 1.0138 0 130 537.3653)" font-size="165">A</text>
<text transform="matrix(1.3385 0 0 1.0643 1447.6923 485.5643)" font-size="62">j</text>
<text transform="matrix(0.733 0 0 0.8175 1431.4061 581.5)" font-size="96" style="font-weight:200;font-family:'DejaVu Sans', sans-serif">↑</text>
<text transform="matrix(1.0533 0 0 1.0642 1447.4933 638.2905)" font-size="66">a</text>
<text transform="matrix(1.2889 0 0 1.0286 528.2407 502)" font-size="21" fill="#222">0</text>
<text transform="matrix(1.2 0 0 1.0286 516.3 433.44)" font-size="21" fill="#222">20</text>
<text transform="matrix(1.16 0 0 1.0286 517.1133 364.88)" font-size="21" fill="#222">40</text>
<text transform="matrix(1.1797 0 0 1.0286 516.7136 296.32)" font-size="21" fill="#222">60</text>
<text transform="matrix(1.1797 0 0 1.0286 516.7136 227.76)" font-size="21" fill="#222">80</text>
<text transform="matrix(1.2 0 0 1.0286 503.9 159.2)" font-size="21" fill="#222">100</text>
<text transform="matrix(1.2 0 0 1.0286 503.9 90.64)" font-size="21" fill="#222">120</text>
<text transform="matrix(1.2736 0 0 1.0047 534.6509 527.0651)" font-size="21" fill="#222">0.00</text>
<text transform="matrix(1.2736 0 0 1.0047 594.3309 527.0651)" font-size="21" fill="#222">0.02</text>
<text transform="matrix(1.2617 0 0 1.0047 654.0189 527.0651)" font-size="21" fill="#222">0.04</text>
<text transform="matrix(1.2736 0 0 1.0047 713.6909 527.0651)" font-size="21" fill="#222">0.06</text>
<text transform="matrix(1.2736 0 0 1.0047 773.3709 527.0651)" font-size="21" fill="#222">0.08</text>
<text transform="matrix(1.2736 0 0 1.0047 833.0509 527.0651)" font-size="21" fill="#222">0.10</text>
<text transform="matrix(1.2736 0 0 1.0047 892.7309 527.0651)" font-size="21" fill="#222">0.12</text>
<text transform="matrix(1.2617 0 0 1.0047 952.4189 527.0651)" font-size="21" fill="#222">0.14</text>
<text transform="matrix(1.2736 0 0 1.0047 1012.0909 527.0651)" font-size="21" fill="#222">0.16</text>
<text transform="matrix(1.2736 0 0 1.0047 1071.7709 527.0651)" font-size="21" fill="#222">0.18</text>
<text transform="matrix(1.2736 0 0 1.0047 1131.4509 527.0651)" font-size="21" fill="#222">0.20</text>
<text transform="matrix(1.2736 0 0 1.0047 1191.1309 527.0651)" font-size="21" fill="#222">0.22</text>
<text transform="matrix(1.217 0 0 1.1304 821.0943 578.3232)" font-size="40" font-style="italic">v</text>
<text transform="matrix(1.2514 0 0 1.1925 855.6171 578.3025)" font-size="40">/</text>
<text transform="matrix(1.2321 0 0 1.1062 881.2893 578.3625)" font-size="40">V</text>
<text transform="matrix(1.2975 0 0 1.1895 929.77 580.2035)" font-size="40">s</text>
<text transform="matrix(1.0707 0 0 1.0353 950.4293 555.3)" font-size="26">-1</text>
<text transform="matrix(0 -1.33 1.3157 0 469.7 337.43)" font-size="40" font-style="italic">i</text>
<text transform="matrix(0 -1.2086 1.365 0 469.245 313.2971)" font-size="40">/</text>
<text transform="matrix(0 -1.0875 1.305 0 468.825 288.725)" font-size="40">μ</text>
<text transform="matrix(0 -0.9671 1.3823 0 469.7 260.1224)" font-size="40">A</text>
<text transform="matrix(1.2198 0 0 1.0186 1506.7868 505.9605)" font-size="21" fill="#222">0.52</text>
<text transform="matrix(1.2198 0 0 1.0186 1506.7868 442.7605)" font-size="21" fill="#222">0.53</text>
<text transform="matrix(1.2084 0 0 1.0186 1506.7944 379.5605)" font-size="21" fill="#222">0.54</text>
<text transform="matrix(1.2198 0 0 1.0186 1506.7868 316.3605)" font-size="21" fill="#222">0.55</text>
<text transform="matrix(1.2198 0 0 1.0186 1506.7868 253.1605)" font-size="21" fill="#222">0.56</text>
<text transform="matrix(1.2084 0 0 1.0186 1506.7944 189.9605)" font-size="21" fill="#222">0.57</text>
<text transform="matrix(1.2198 0 0 1.0186 1506.7868 126.7605)" font-size="21" fill="#222">0.58</text>
<text transform="matrix(1.2947 0 0 1.0465 1599.6368 530.6512)" font-size="21" fill="#222">-4.0</text>
<text transform="matrix(1.2947 0 0 1.0465 1708.3868 530.6512)" font-size="21" fill="#222">-3.5</text>
<text transform="matrix(1.2947 0 0 1.0465 1817.1368 530.6512)" font-size="21" fill="#222">-3.0</text>
<text transform="matrix(1.2947 0 0 1.0465 1925.8868 530.6512)" font-size="21" fill="#222">-2.5</text>
<text transform="matrix(1.2947 0 0 1.0465 2034.6368 530.6512)" font-size="21" fill="#222">-2.0</text>
<text transform="matrix(1.2947 0 0 1.0714 2143.3868 530.6429)" font-size="21" fill="#222">-1.5</text>
<text transform="matrix(1.197 0 0 1.0828 1865.102 584.1)" font-size="42">ln</text>
<text transform="matrix(1.2589 0 0 1.1695 1920.7804 583.7102)" font-size="42" font-style="italic">v</text>
<text transform="matrix(0 -1.26 1.4038 0 1472.3 351.58)" font-size="40" font-style="italic">E</text>
<text transform="matrix(0 -1.14 1.3688 0 1471.8438 310.12)" font-size="40">/</text>
<text transform="matrix(0 -1.1107 1.3687 0 1471.3875 287.6702)" font-size="40">V</text>
</svg></body></html>
